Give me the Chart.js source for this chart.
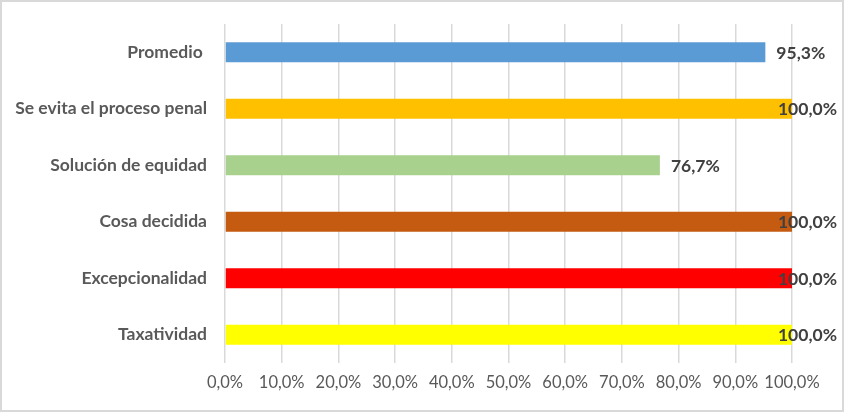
<!DOCTYPE html>
<html><head><meta charset="utf-8">
<script src="https://cdn.jsdelivr.net/npm/chart.js@4"></script>
<style>html,body{margin:0;padding:0;background:#fff}#wrap{width:844px;height:412px;position:relative}</style>
</head><body><div id="wrap"><canvas id="c" width="844" height="412"></canvas></div>
<script>
const categories = ["Promedio ", "Se evita el proceso penal", "Solución de equidad", "Cosa decidida", "Excepcionalidad", "Taxatividad"];
const values = [95.3, 100.0, 76.7, 100.0, 100.0, 100.0];
const barColors = ["#5B9BD5", "#FFC000", "#A9D18E", "#C55A11", "#FF0000", "#FFFF00"];
const tickValues = [0,10,20,30,40,50,60,70,80,90,100];

const FONT = "Lato";
const fmt = v => v.toFixed(1).replace('.', ',') + '%';

const frame = {
  id: 'frame',
  beforeDraw(chart) {
    const c = chart.ctx;
    c.save();
    c.fillStyle = '#fff';
    c.fillRect(0,0,chart.width,chart.height);
    c.strokeStyle = '#D9D9D9';
    c.lineWidth = 2;
    c.strokeRect(1,1,chart.width-2,chart.height-2);
    c.restore();
  }
};
const labels = {
  id: 'labels',
  afterDatasetsDraw(chart) {
    const c = chart.ctx;
    const meta = chart.getDatasetMeta(0);
    c.save();
    c.font = 'bold 17.5px ' + FONT;
    c.fillStyle = '#404040';
    c.textBaseline = 'middle';
    c.textAlign = 'left';
    meta.data.forEach((bar, i) => {
      const t = fmt(values[i]);
      const w = c.measureText(t).width;
      let x = bar.x + 11;
      x = Math.min(x, chart.width - 7 - w);
      c.fillText(t, x, bar.y + 1);
    });
    c.restore();
  }
};

new Chart(document.getElementById('c'), {
  type: 'bar',
  data: { labels: categories, datasets: [{ data: values, backgroundColor: barColors, categoryPercentage: 1, barPercentage: 0.354 }] },
  options: {
    indexAxis: 'y',
    responsive: false,
    animation: false,
    layout: { padding: { top: 24, right: 52, left: 0, bottom: 0 } },
    plugins: { legend: { display: false }, tooltip: { enabled: false } },
    scales: {
      x: {
        min: 0, max: 100,
        afterBuildTicks(s) { s.ticks = tickValues.map(v => ({ value: v })); },
        afterFit(s) { s.height = 49; },
        ticks: { callback: v => fmt(v), color: '#595959', font: { family: FONT, size: 16.5 }, padding: 10, maxRotation: 0, autoSkip: false },
        grid: { color: '#D9D9D9', lineWidth: 1.5, drawTicks: false },
        border: { display: false }
      },
      y: {
        afterFit(s) { s.width = 225; s.paddingTop = 0; s.paddingBottom = 0; },
        ticks: { color: '#595959', font: { family: FONT, size: 17.5, weight: 'bold' }, padding: 18 },
        grid: { display: false, drawTicks: false },
        border: { display: false }
      }
    }
  },
  plugins: [frame, labels]
});
</script></body></html>
